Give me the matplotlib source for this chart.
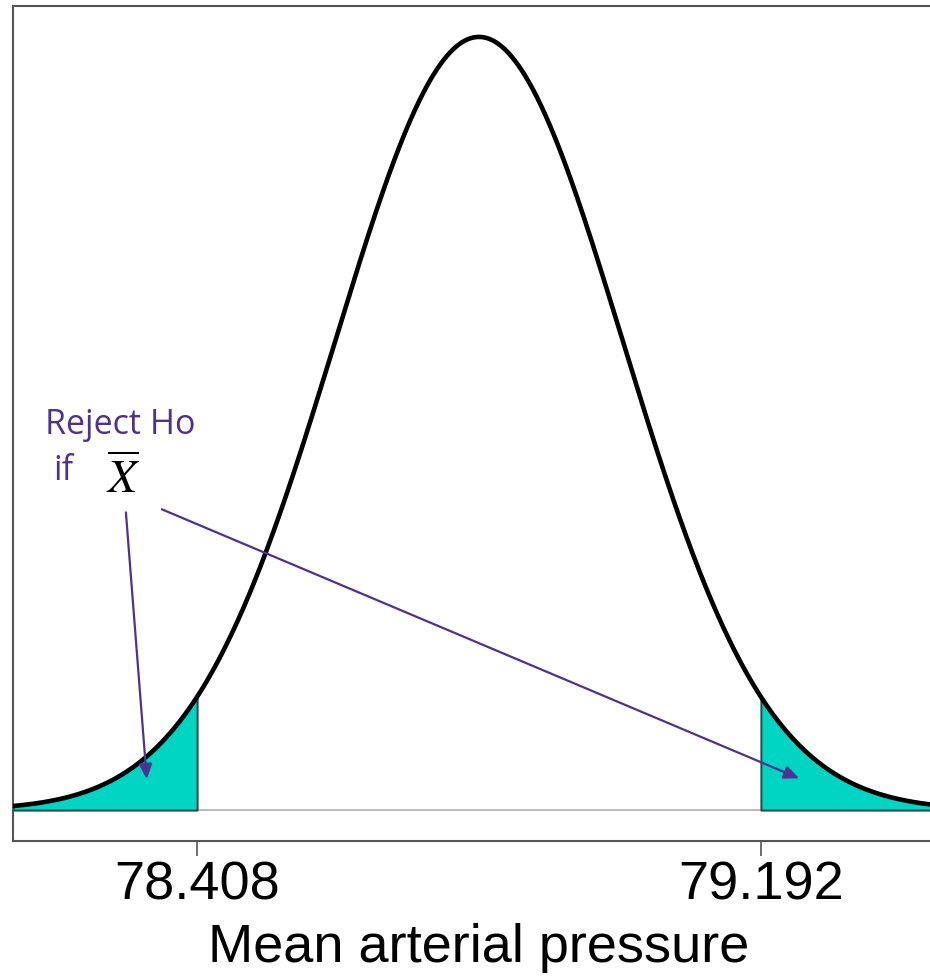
import numpy as np
import matplotlib.pyplot as plt

# sampling distribution of the mean under Ho
mu0 = 78.8
se = 0.2
half_width = 0.648   # x range shown either side of mu0
crit_lo = 78.408
crit_hi = 79.192
tick_vals = [crit_lo, crit_hi]
tick_labels = ["78.408", "79.192"]
x_label = "Mean arterial pressure"


def dens(v):
    return np.exp(-0.5 * ((v - mu0) / se) ** 2) / (se * np.sqrt(2 * np.pi))


x = np.linspace(mu0 - half_width, mu0 + half_width, 800)
y = dens(x)

plt.rcParams["mathtext.fontset"] = "stix"
fig = plt.figure(figsize=(9.3, 9.78), dpi=100)
# right edge of the box falls just outside the picture, as in the reference
ax = fig.add_axes([13 / 930, 1 - 842 / 978, (945 - 13) / 930, (842 - 7) / 978])

ax.axhline(0, color="#bebebe", lw=1.5, zorder=1)
xl = np.append(x[x <= crit_lo], crit_lo)
xr = np.insert(x[x >= crit_hi], 0, crit_hi)
ax.fill_between(xl, 0, dens(xl), facecolor="#00d4c3", edgecolor="#2a4f4f", lw=1.5, zorder=2)
ax.fill_between(xr, 0, dens(xr), facecolor="#00d4c3", edgecolor="#2a4f4f", lw=1.5, zorder=2)
ax.plot(x, y, color="black", lw=3.3, zorder=3)

ax.set_xlim(x.min(), x.max())
ax.set_ylim(-0.04 * y.max(), 1.04 * y.max())
ax.set_yticks([])
ax.set_xticks(tick_vals)
ax.set_xticklabels(tick_labels, fontsize=39, fontfamily="Liberation Sans")
ax.tick_params(axis="x", length=11, width=1.2, color="#555555", pad=2)
ax.set_xlabel(x_label, fontsize=39, fontfamily="Liberation Sans", labelpad=9)
for s in ax.spines.values():
    s.set_color("#555555")
    s.set_linewidth(1.5)

purple = "#4e3191"
ax.text(78.197, 0.972, "Reject Ho", color=purple, fontsize=24.5, fontfamily="Open Sans")
ax.text(78.208, 0.853, "if", color=purple, fontsize=24.5, fontfamily="Open Sans")
ax.text(78.282, 0.820, r"$\overline{X}$", color="black", fontsize=34)

arrow = dict(arrowstyle="-|>,head_length=0.9,head_width=0.4", color=purple, lw=1.6, shrinkA=0, shrinkB=0)
ax.annotate("", xy=(78.338, 0.080), xytext=(78.309, 0.768), arrowprops=arrow)
ax.annotate("", xy=(79.245, 0.082), xytext=(78.359, 0.776), arrowprops=arrow)

fig.savefig("out.png", dpi=100)
